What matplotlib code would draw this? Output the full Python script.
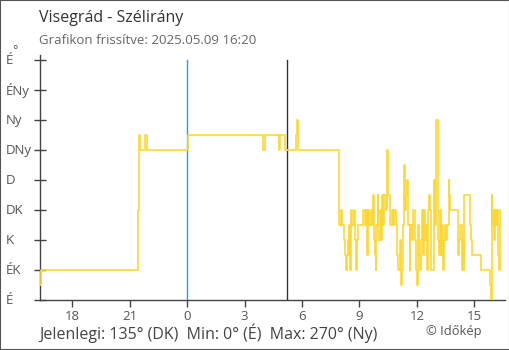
import matplotlib.pyplot as plt
import matplotlib.transforms as mtransforms
from matplotlib.patches import Rectangle

plt.rcParams['font.family'] = ['Open Sans', 'DejaVu Sans']

# wind direction (deg) -- time in hours since midnight of the first day
times = [16.32, 16.37, 21.45, 21.50, 21.55, 21.82, 21.90, 24.03,
         27.96, 28.06, 28.80, 28.85, 29.10, 29.70, 29.74, 29.78,
         31.92, 32.04, 32.08, 32.20, 32.25, 32.29, 32.34, 32.38, 32.45, 32.48,
         32.52, 32.55, 32.59, 32.73, 32.78, 32.83, 32.86, 32.93, 33.21, 33.27,
         33.34, 33.39, 33.44, 33.51, 33.60, 33.67, 33.72, 33.77, 33.82, 33.86,
         33.89, 33.95, 33.98, 34.05, 34.10, 34.17, 34.23, 34.30, 34.37, 34.44,
         34.47, 34.61, 34.68, 34.75, 34.82, 34.89, 34.94, 35.00, 35.10, 35.17,
         35.20, 35.26, 35.31, 35.34, 35.38, 35.45, 35.48, 35.55, 35.62, 35.66,
         35.73, 35.78, 35.90, 35.95, 36.02, 36.06, 36.11, 36.16, 36.22, 36.27,
         36.32, 36.37, 36.42, 36.48, 36.53, 36.58, 36.65, 36.70, 36.76, 36.88,
         36.91, 36.95, 37.00, 37.12, 37.17, 37.23, 37.28, 37.33, 37.37, 37.42,
         37.47, 37.54, 37.59, 37.65, 37.68, 37.73, 38.13, 38.20, 38.27, 38.33,
         38.40, 38.45, 38.48, 38.75, 38.80, 38.87, 39.36, 39.83, 39.86, 39.90,
         39.93, 39.98, 40.02, 40.07, 40.12, 40.18, 40.21, 40.28, 40.33]
direction = [22.5, 45, 135, 247.5, 225, 247.5, 225, 247.5,
             225, 247.5, 225, 247.5, 225, 247.5, 270, 225,
             112.5, 135, 112.5, 90, 67.5, 45, 67.5, 90, 67.5, 112.5,
             45, 135, 112.5, 135, 90, 45, 90, 112.5, 135, 112.5,
             135, 67.5, 135, 112.5, 135, 112.5, 157.5, 90, 67.5, 45,
             112.5, 157.5, 90, 135, 90, 157.5, 112.5, 157.5, 135, 225,
             157.5, 112.5, 135, 112.5, 135, 112.5, 67.5, 45, 90, 22.5,
             45, 112.5, 157.5, 202.5, 135, 157.5, 180, 112.5, 45, 112.5,
             90, 135, 90, 45, 22.5, 112.5, 67.5, 45, 90, 135,
             67.5, 135, 90, 112.5, 45, 135, 157.5, 135, 45, 67.5,
             180, 112.5, 270, 90, 67.5, 135, 67.5, 112.5, 45, 90,
             112.5, 90, 112.5, 180, 157.5, 135, 67.5, 90, 112.5, 45,
             90, 45, 157.5, 112.5, 90, 67.5, 45, 22.5, 0, 157.5,
             112.5, 135, 90, 135, 112.5, 135, 67.5, 45, 135]

ytick_vals = [0, 45, 90, 135, 180, 225, 270, 315, 360]
ytick_labels = ['É', 'ÉK', 'K', 'DK', 'D', 'DNy', 'Ny', 'ÉNy', 'É']
xtick_vals = [18, 21, 24, 27, 30, 33, 36, 39]
xtick_labels = ['18', '21', '0', '3', '6', '9', '12', '15']
midnight = 24
sunrise = 29.2

fig = plt.figure(figsize=(5.1, 3.5), dpi=100)
ax = fig.add_axes([40 / 510, 50 / 350, 465 / 510, 245 / 350])

ax.step(times, direction, where='post', color='#FDD835', lw=1.2, zorder=3)
ax.axvline(midnight, ymax=360 / 367.5, color='#2A9BE8', lw=1.0, zorder=2)
ax.axvline(sunrise, ymax=360 / 367.5, color='#333333', lw=1.0, zorder=2)

ax.set_xlim(16.32, 40.6)
ax.set_ylim(0, 367.5)

for s in ['top', 'right']:
    ax.spines[s].set_visible(False)
for s in ['left', 'bottom']:
    ax.spines[s].set_color('#444444')
    ax.spines[s].set_linewidth(1.0)

ax.set_yticks(ytick_vals)
ax.set_yticklabels([])
ax.tick_params(axis='y', direction='inout', length=9, width=1, color='#444444')
ax.set_xticks(xtick_vals)
ax.set_xticklabels(xtick_labels)
ax.tick_params(axis='x', direction='out', length=5, width=1, color='#444444',
               labelsize=9.5, labelcolor='#555555', pad=2.5)

trans = mtransforms.blended_transform_factory(fig.transFigure, ax.transData)
for v, lab in zip(ytick_vals, ytick_labels):
    ax.text(6 / 510, v, lab, transform=trans, ha='left', va='center',
            fontsize=9.5, color='#555555', clip_on=False)
fig.text(15 / 510, 1 - 51 / 350, '°', ha='center', va='center',
         fontsize=9, color='#555555')

fig.text(39 / 510, 1 - 18 / 350, 'Visegrád - Szélirány', ha='left', va='center',
         fontsize=11.5, color='#333333')
fig.text(39 / 510, 1 - 41 / 350, 'Grafikon frissítve: 2025.05.09 16:20', ha='left',
         va='center', fontsize=9.5, color='#666666')
fig.text(39 / 510, 1 - 333 / 350, 'Jelenlegi: 135° (DK)  Min: 0° (É)  Max: 270° (Ny)',
         ha='left', va='center', fontsize=11.5, color='#444444')
fig.text(482 / 510, 1 - 332 / 350, '© Időkép', ha='right', va='center',
         fontsize=9.3, color='#555555')

fig.patches.append(Rectangle((0, 0), 1, 1, transform=fig.transFigure, fill=False,
                             edgecolor='#555555', lw=1.5))

fig.savefig('out.png', dpi=100)
